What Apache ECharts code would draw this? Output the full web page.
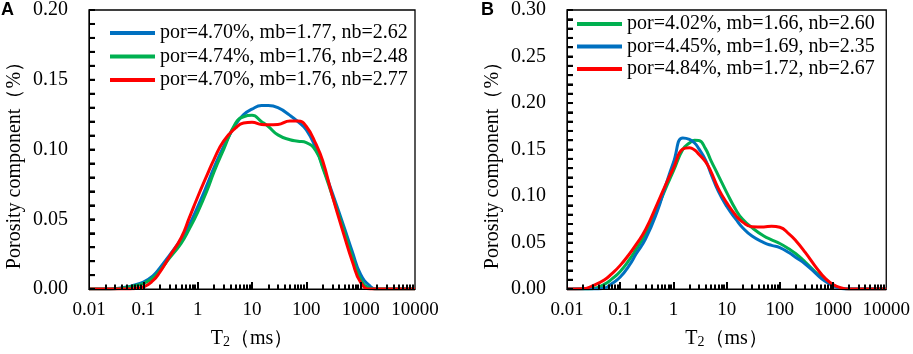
<!DOCTYPE html>
<html>
<head>
<meta charset="utf-8">
<script src="https://cdn.jsdelivr.net/npm/echarts@6/dist/echarts.min.js"></script>
<style>
html,body{margin:0;padding:0;background:#fff;}
#chart{width:913px;height:354px;}
</style>
</head>
<body>
<div id="chart"></div>
<script>
// ---- Data ----
const T_A = [0.01, 0.02, 0.03, 0.05, 0.07, 0.1, 0.15, 0.2, 0.3, 0.5, 0.7, 1, 1.5, 2, 3, 5, 7, 10, 15, 20, 30, 50, 70, 100, 150, 200, 300, 500, 700, 1000, 1500, 2000, 3000, 5000, 10000];
const blueA  = [0, 0, 0.0003, 0.0015, 0.003, 0.005, 0.0095, 0.015, 0.024, 0.036, 0.046, 0.059, 0.075, 0.087, 0.102, 0.118, 0.125, 0.129, 0.1315, 0.1315, 0.130, 0.1245, 0.120, 0.114, 0.101, 0.088, 0.069, 0.044, 0.027, 0.0105, 0.002, 0, 0, 0, 0];
const greenA = [0, 0, 0.0002, 0.0012, 0.0025, 0.004, 0.008, 0.013, 0.022, 0.033, 0.043, 0.055, 0.071, 0.084, 0.100, 0.119, 0.1235, 0.1245, 0.120, 0.1165, 0.1105, 0.107, 0.106, 0.105, 0.099, 0.087, 0.067, 0.041, 0.023, 0.007, 0.0005, 0, 0, 0, 0];
const redA   = [0, 0, 0, 0, 0.0005, 0.0015, 0.006, 0.012, 0.023, 0.037, 0.051, 0.066, 0.082, 0.093, 0.106, 0.1155, 0.119, 0.1195, 0.118, 0.1177, 0.118, 0.1205, 0.1205, 0.1165, 0.104, 0.092, 0.067, 0.038, 0.020, 0.0047, 0, 0, 0, 0, 0];

const T_B = [0.01, 0.02, 0.03, 0.05, 0.07, 0.1, 0.15, 0.2, 0.3, 0.5, 0.7, 1, 1.5, 2, 2.5, 3, 4, 5, 7, 10, 15, 20, 30, 50, 70, 100, 150, 200, 300, 500, 700, 1000, 1500, 2000, 3000, 5000, 10000];
const greenB = [0, 0, 0.0005, 0.005, 0.011, 0.019, 0.032, 0.043, 0.059, 0.087, 0.107, 0.127, 0.150, 0.157, 0.160, 0.1598, 0.151, 0.139, 0.122, 0.104, 0.085, 0.075, 0.066, 0.057, 0.053, 0.049, 0.043, 0.038, 0.029, 0.0167, 0.0097, 0.0044, 0.0005, 0, 0, 0, 0];
const blueB  = [0, 0, 0, 0.001, 0.006, 0.013, 0.026, 0.038, 0.054, 0.084, 0.110, 0.136, 0.1625, 0.161, 0.157, 0.151, 0.139, 0.125, 0.105, 0.089, 0.075, 0.066, 0.057, 0.050, 0.047, 0.0447, 0.039, 0.034, 0.027, 0.0156, 0.0086, 0.0037, 0.0003, 0, 0, 0, 0];
const redB   = [0, 0.0003, 0.0035, 0.0097, 0.0167, 0.0255, 0.038, 0.048, 0.064, 0.092, 0.111, 0.130, 0.1505, 0.152, 0.1495, 0.145, 0.137, 0.127, 0.108, 0.093, 0.079, 0.072, 0.067, 0.0668, 0.0676, 0.0665, 0.059, 0.052, 0.0395, 0.022, 0.012, 0.005, 0.001, 0, 0, 0, 0];

const namesA = ['por=4.70%, mb=1.77, nb=2.62', 'por=4.74%, mb=1.76, nb=2.48', 'por=4.70%, mb=1.76, nb=2.77'];
const namesB = ['por=4.02%, mb=1.66, nb=2.60', 'por=4.45%, mb=1.69, nb=2.35', 'por=4.84%, mb=1.72, nb=2.67'];
const xTickLabels = ['0.01', '0.1', '1', '10', '100', '1000', '10000'];
const xMajorTicks = [0.1, 1, 10, 100, 1000];
const yMaxA = 0.20;
const yMaxB = 0.30;
const panelLabels = ['A', 'B'];

// ---- Minor tick positions (axis decoration, in data units) ----
const xMinorTicks = [];
for (let k = -2; k <= 3; k++) for (let m = 2; m <= 9; m++) xMinorTicks.push(Number((m * Math.pow(10, k)).toPrecision(3)));
function yTickValues(max) {
  const out = [];
  for (let i = 1; i < Math.round(max * 100); i++) out.push(i / 100);
  return out;
}

// ---- Styles ----
const BLUE = '#0070C0', GREEN = '#00B050', RED = '#FF0000';
const SERIF = 'Liberation Serif';
const TICK_W = 2;

function pairs(t, y) { return t.map((v, i) => [v, y[i]]); }

function xAx(gi) {
  return {
    type: 'log', gridIndex: gi, min: 0.01, max: 10000, position: 'bottom', z: 5,
    axisLine: { show: true, lineStyle: { color: '#000', width: 1 } },
    axisTick: { show: false },
    minorTick: { show: false },
    splitLine: { show: false },
    axisLabel: {
      color: '#000', fontFamily: SERIF, fontSize: 19, margin: 11,
      formatter: v => xTickLabels[Math.round(Math.log10(v)) + 2]
    },
    name: '{t|T}{sub|2}{t|（ms）}', nameLocation: 'middle', nameGap: 34,
    nameTextStyle: {
      color: '#000', fontFamily: SERIF, fontSize: 20,
      rich: {
        t: { fontFamily: SERIF, fontSize: 20, lineHeight: 20, verticalAlign: 'top', color: '#000' },
        sub: { fontFamily: SERIF, fontSize: 14, lineHeight: 14, verticalAlign: 'bottom', padding: [11, 0, 0, 0], color: '#000' }
      }
    }
  };
}
function xTickAx(gi, values, len) {
  return {
    type: 'log', gridIndex: gi, min: 0.01, max: 10000, position: 'bottom', offset: 0, z: 5,
    axisLine: { show: false },
    axisLabel: { show: false },
    splitLine: { show: false },
    axisTick: { show: true, inside: true, length: len, interval: 0, customValues: values, lineStyle: { color: '#000', width: TICK_W } }
  };
}
function yAx(gi, max) {
  return {
    type: 'value', gridIndex: gi, min: 0, max: max, interval: 0.05, z: 5, position: 'left',
    axisLine: { show: true, lineStyle: { color: '#000', width: 1 } },
    axisTick: { show: true, inside: true, length: 6, lineStyle: { color: '#000', width: TICK_W } },
    minorTick: { show: true, splitNumber: 5, length: 6, lineStyle: { color: '#000', width: TICK_W } },
    splitLine: { show: false },
    axisLabel: { color: '#000', fontFamily: SERIF, fontSize: 20, margin: 21, formatter: v => v.toFixed(2) },
    name: 'Porosity component（%）', nameLocation: 'middle', nameGap: 64,
    nameTextStyle: { color: '#000', fontFamily: SERIF, fontSize: 20, padding: [0, 22, 0, 0] }
  };
}
// y-axis tick marks drawn as small rect symbols placed through the axes' own scales
function yTicks(gi, values, len) {
  return {
    type: 'scatter', xAxisIndex: gi, yAxisIndex: gi, silent: true, clip: false, z: 6,
    data: values.map(v => [0.01, v]),
    symbol: 'rect', symbolSize: [len, TICK_W], symbolOffset: [len / 2, 0],
    itemStyle: { color: '#000', opacity: 1 },
    emphasis: { disabled: true },
    tooltip: { show: false }
  };
}
function line(name, gi, data, color) {
  return {
    type: 'line', name: name, xAxisIndex: gi, yAxisIndex: gi, data: data,
    smooth: 0.5, showSymbol: false, symbol: 'none', z: 3,
    lineStyle: { color: color, width: 3 }, itemStyle: { color: color }
  };
}
function legend(names, left, top, gap) {
  return {
    data: names, orient: 'vertical', left: left, top: top, padding: 0,
    icon: 'rect', itemWidth: 45, itemHeight: 4, itemGap: gap,
    textStyle: { color: '#000', fontFamily: SERIF, fontSize: 20, lineHeight: 20 }
  };
}

const chart = echarts.init(document.getElementById('chart'), null, { renderer: 'canvas' });
chart.setOption({
  animation: false,
  backgroundColor: '#fff',
  title: [
    { text: panelLabels[0], left: 1, top: 1, padding: 0, textStyle: { fontFamily: 'Liberation Sans', fontWeight: 'bold', fontSize: 18, color: '#000' } },
    { text: panelLabels[1], left: 481, top: 1, padding: 0, textStyle: { fontFamily: 'Liberation Sans', fontWeight: 'bold', fontSize: 18, color: '#000' } }
  ],
  grid: [
    { left: 89, top: 9, width: 326, height: 286, show: true, borderColor: '#000', borderWidth: 1.3, backgroundColor: 'rgba(0,0,0,0)' },
    { left: 567, top: 7.5, width: 322, height: 285, show: true, borderColor: '#000', borderWidth: 1.3, backgroundColor: 'rgba(0,0,0,0)' }
  ],
  xAxis: [xAx(0), xAx(1), xTickAx(0, xMinorTicks, 4.5), xTickAx(1, xMinorTicks, 4.5), xTickAx(0, xMajorTicks, 7), xTickAx(1, xMajorTicks, 7)],
  yAxis: [yAx(0, yMaxA), yAx(1, yMaxB)],
  legend: [legend(namesA, 110, 23, 3.5), legend(namesB, 577, 14, 2.5)],
  series: [
    yTicks(0, yTickValues(yMaxA), 6),
    yTicks(1, yTickValues(yMaxB), 6),
    line(namesA[0], 0, pairs(T_A, blueA), BLUE),
    line(namesA[1], 0, pairs(T_A, greenA), GREEN),
    line(namesA[2], 0, pairs(T_A, redA), RED),
    line(namesB[0], 1, pairs(T_B, greenB), GREEN),
    line(namesB[1], 1, pairs(T_B, blueB), BLUE),
    line(namesB[2], 1, pairs(T_B, redB), RED)
  ]
});
</script>
</body>
</html>
